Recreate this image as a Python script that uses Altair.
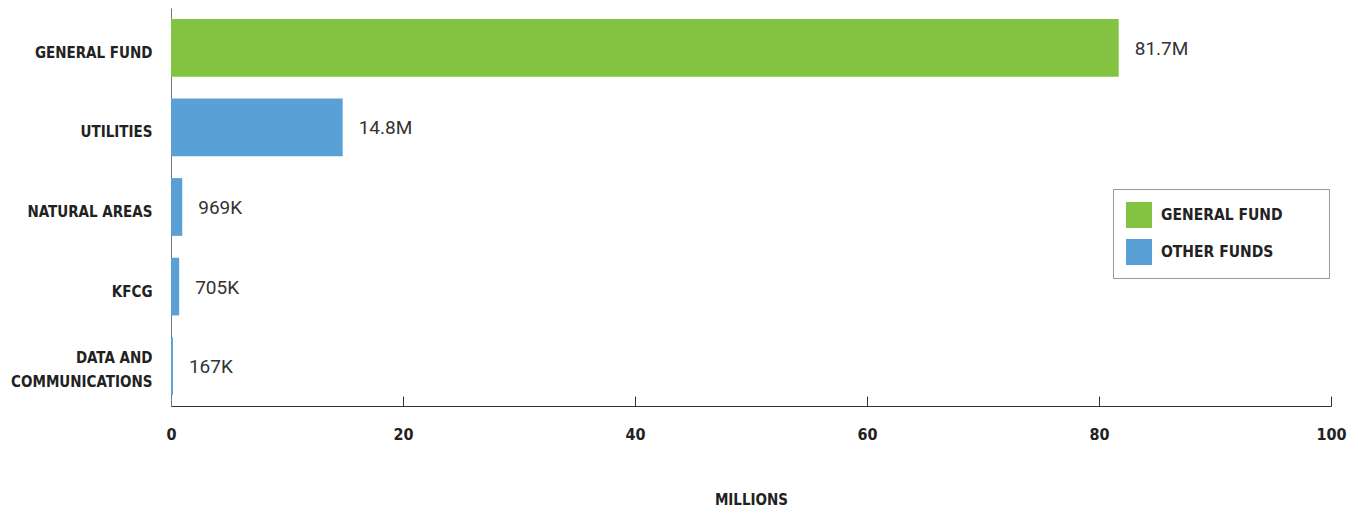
import altair as alt
import pandas as pd

categories = ["GENERAL FUND", "UTILITIES", "NATURAL AREAS", "KFCG", "DATA AND COMMUNICATIONS"]
values_millions = [81.7, 14.8, 0.969, 0.705, 0.167]
value_labels = ["81.7M", "14.8M", "969K", "705K", "167K"]
fund_types = ["GENERAL FUND", "OTHER FUNDS", "OTHER FUNDS", "OTHER FUNDS", "OTHER FUNDS"]
legend_names = ["GENERAL FUND", "OTHER FUNDS"]
legend_colors = ["#84C341", "#58A0D6"]
x_ticks = [0, 20, 40, 60, 80, 100]

df = pd.DataFrame({
    "category": categories,
    "value": values_millions,
    "label": value_labels,
    "fund": fund_types,
})

FONT = "DejaVu Sans Condensed"
VFONT = "Roboto"
PLOT_W = 1160
PLOT_H = 398
PAD = "\u2800" * 3

x_scale = alt.Scale(domain=[0, 100], nice=False, zero=True)

y_enc = alt.Y(
    "category:N",
    sort=categories,
    scale=alt.Scale(paddingInner=0.275, paddingOuter=0.1375),
    axis=alt.Axis(
        title=None, ticks=False, domainColor="#777", labelFont=FONT,
        labelFontWeight="bold", labelFontSize=15, labelColor="#222",
        labelPadding=19, labelLineHeight=24, labelLimit=300,
        labelOffset={"condition": {"test": "datum.value == 'DATA AND COMMUNICATIONS'", "value": -8}, "value": 5},
        labelExpr="datum.value == 'DATA AND COMMUNICATIONS' ? ['DATA AND', 'COMMUNICATIONS'] : datum.label",
    ),
)

bars = alt.Chart(df).mark_bar().encode(
    x=alt.X(
        "value:Q", scale=x_scale,
        axis=alt.Axis(
            values=x_ticks, ticks=False, grid=False, domainColor="#333",
            labelFont=FONT, labelFontWeight="bold", labelFontSize=16,
            labelColor="#222", labelPadding=20, labelFlush=False,
            title="MILLIONS",
            titleFont=FONT, titleFontWeight="bold", titleFontSize=15,
            titleColor="#222", titlePadding=50,
        ),
    ),
    y=y_enc,
    color=alt.Color(
        "fund:N",
        scale=alt.Scale(domain=legend_names, range=legend_colors),
        legend=alt.Legend(
            orient="none", legendX=942, legendY=181, direction="vertical",
            title=None, symbolType="square", symbolSize=676,
            symbolStrokeWidth=0, symbolOpacity=1, padding=13, rowPadding=11,
            labelOffset=9, strokeColor="#999", fillColor="white",
            labelFont=FONT, labelFontWeight="bold", labelFontSize=15.5,
            labelColor="#222", labelLimit=300,
            labelExpr="datum.label + '" + PAD + "'",
        ),
    ),
)

text = alt.Chart(df).mark_text(
    align="left", baseline="middle", dx=16, dy=1, font=VFONT, fontWeight=400,
    fontSize=19, color="#333"
).encode(
    x=alt.X(
        "value:Q", scale=x_scale,
        axis=alt.Axis(
            orient="top", offset=-PLOT_H, values=x_ticks, labels=False,
            domain=False, ticks=True, tickSize=10, tickColor="#333",
            grid=False, title=None,
        ),
    ),
    y=y_enc,
    text="label:N",
)

chart = alt.layer(bars, text).resolve_axis(x="independent").properties(
    width=PLOT_W,
    height=PLOT_H,
    padding={"left": 163, "top": 0, "right": 18, "bottom": 101},
    autosize=alt.AutoSizeParams(type="none"),
).configure_view(stroke=None)

chart.save("out.html", embed_options={"renderer": "svg", "actions": False})
